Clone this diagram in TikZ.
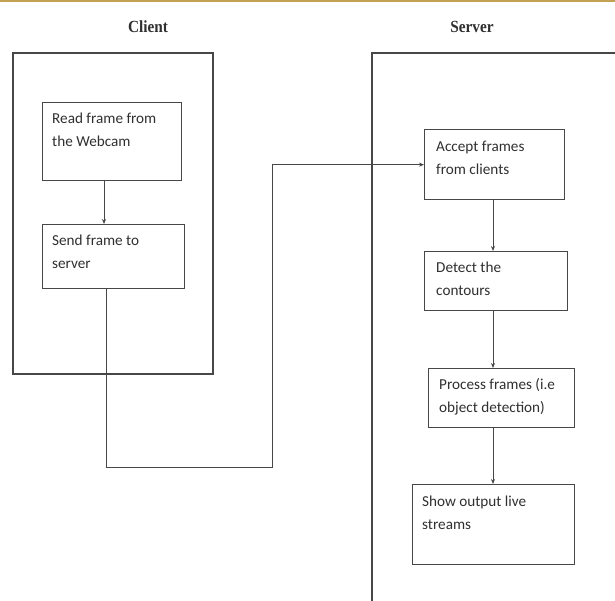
\documentclass[tikz,border=0pt]{standalone}
\usepackage{fontspec}
\setmainfont{Carlito}
\newfontfamily\titlefont{Liberation Serif}
\usetikzlibrary{arrows.meta}
\definecolor{linec}{HTML}{474747}
\definecolor{txtc}{HTML}{303030}
\definecolor{goldc}{RGB}{196,162,84}
\tikzset{
  frame/.style={draw=linec, line width=1.3pt},
  stepbox/.style={draw=linec, line width=1.3pt, anchor=north west, inner sep=0pt, fill=white},
  lbl/.style={anchor=north west, align=left, inner sep=0pt, xshift=10pt, yshift=-11pt,
     text=txtc, font=\fontsize{15.2}{23}\selectfont},
  ttl/.style={text=txtc, font=\titlefont\bfseries\fontsize{17}{19}\selectfont, xscale=0.9},
  conn/.style={draw=linec, line width=0.9pt},
  arr/.style={conn, -{Stealth[length=5pt,width=4pt]}}
}
\begin{document}
\begin{tikzpicture}[x=1pt,y=-1pt]
\useasboundingbox (0,0) rectangle (615,601);
\fill[white] (0,0) rectangle (615,601);
% top rule
\draw[goldc, line width=2pt] (0,1.5) -- (615,1.5);
% titles
\node[ttl] (clientttl) at (148,27) {Client};
\node[ttl] (serverttl) at (472,27) {Server};
% outer frames
\draw[frame] (13,53) rectangle (213,374);
\draw[frame] (615,53) -- (372,53) -- (372,601);
% client boxes
\node[stepbox, minimum width=139pt, minimum height=78pt,
  label={[lbl]north west:Read frame from\\the Webcam}] (read) at (42,102) {};
\node[stepbox, minimum width=142pt, minimum height=64pt,
  label={[lbl]north west:Send frame to\\server}] (send) at (42,224) {};
% server boxes
\node[stepbox, minimum width=140pt, minimum height=70pt,
  label={[lbl, xshift=2pt, yshift=-1pt]north west:Accept frames\\from clients}] (accept) at (424,129) {};
\node[stepbox, minimum width=143pt, minimum height=59pt,
  label={[lbl, xshift=2pt]north west:Detect the\\contours}] (detect) at (424,251) {};
\node[stepbox, minimum width=146pt, minimum height=59pt,
  label={[lbl, xshift=1pt, yshift=1pt]north west:Process frames (i.e\\object detection)}] (process) at (428,368) {};
\node[stepbox, minimum width=162pt, minimum height=80pt,
  label={[lbl, yshift=-1pt]north west:Show output live\\streams}] (show) at (412,484) {};
% connectors
\coordinate (bend) at (272,467);
\draw[arr] ([xshift=62pt]read.south west) -- ([xshift=62pt]send.north west);
\draw[arr] ([xshift=64pt]send.south west) |- (bend) |- (accept.west);
\draw[arr] ([xshift=69pt]accept.south west) -- ([xshift=69pt]detect.north west);
\draw[arr] ([xshift=69pt]detect.south west) -- ([xshift=65pt]process.north west);
\draw[arr] ([xshift=65pt]process.south west) -- ([xshift=81pt]show.north west);
\end{tikzpicture}
\end{document}
